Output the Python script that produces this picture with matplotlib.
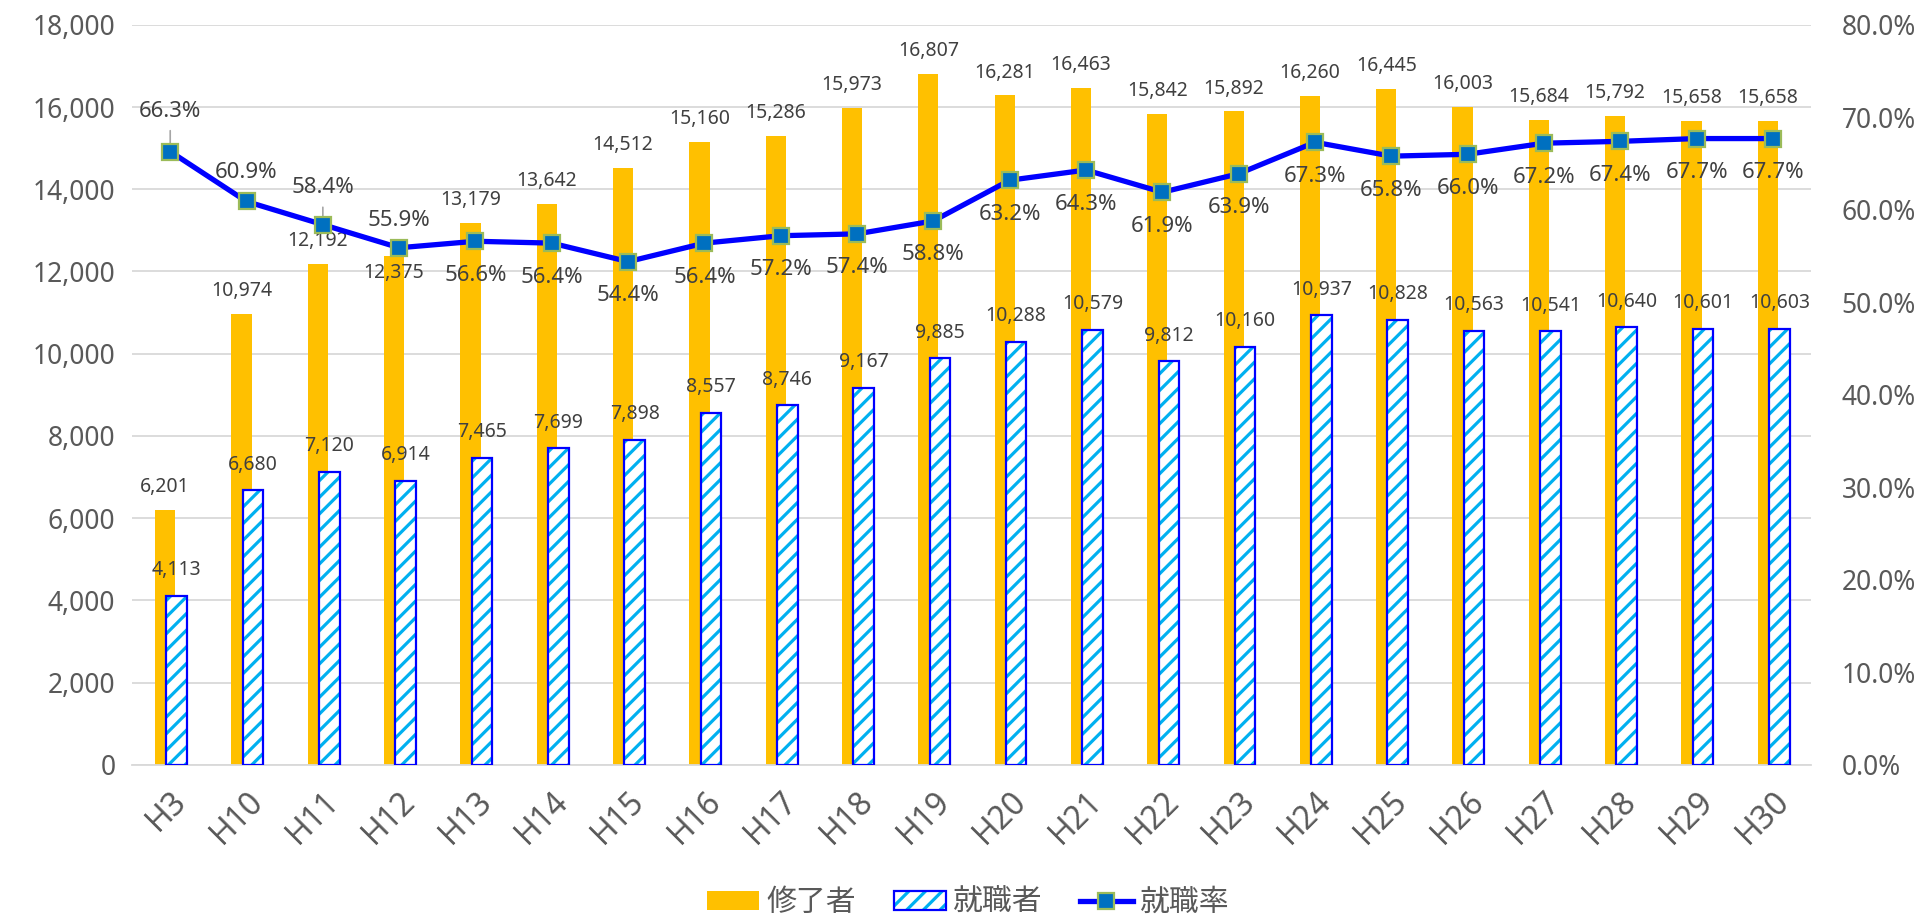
import matplotlib
matplotlib.use('Agg')
import matplotlib.pyplot as plt
from matplotlib.patches import Patch
from matplotlib.lines import Line2D
import numpy as np

ORANGE = '#FFC000'
BLUE = '#0000FF'
CYAN = '#00B0F0'
MFACE = '#0070C0'
MEDGE = '#9BBB59'
GRID = '#D9D9D9'
TICK = '#595959'
LABEL = '#404040'

years = ['H3', 'H10', 'H11', 'H12', 'H13', 'H14', 'H15', 'H16', 'H17', 'H18', 'H19',
         'H20', 'H21', 'H22', 'H23', 'H24', 'H25', 'H26', 'H27', 'H28', 'H29', 'H30']
graduates = [6201, 10974, 12192, 12375, 13179, 13642, 14512, 15160, 15286, 15973, 16807,
             16281, 16463, 15842, 15892, 16260, 16445, 16003, 15684, 15792, 15658, 15658]
employed = [4113, 6680, 7120, 6914, 7465, 7699, 7898, 8557, 8746, 9167, 9885,
            10288, 10579, 9812, 10160, 10937, 10828, 10563, 10541, 10640, 10601, 10603]
rate = [66.3, 60.9, 58.4, 55.9, 56.6, 56.4, 54.4, 56.4, 57.2, 57.4, 58.8,
        63.2, 64.3, 61.9, 63.9, 67.3, 65.8, 66.0, 67.2, 67.4, 67.7, 67.7]

# label placement (points, relative to the mark)
grad_off = [16.5] * len(years)
grad_off[3] = -12
rate_off = [29, 21, 26.5, 19.5] + [-24.5] * 18
leaders = {0, 2}

plt.rcParams['hatch.linewidth'] = 2.3

fig = plt.figure(figsize=(19.25, 9.17), dpi=100)
ax = fig.add_axes([0.0686, 0.1658, 0.8722, 0.8072])
x = np.arange(len(years))

ax.bar(x - 0.066, graduates, width=0.265, color=ORANGE, zorder=2)
ax.bar(x + 0.085, employed, width=0.27, color='white', edgecolor=CYAN,
       hatch='//', linewidth=0, zorder=3)
ax.bar(x + 0.085, employed, width=0.27, fill=False, edgecolor=BLUE,
       linewidth=1.6, zorder=4)

ax.set_xlim(-0.5, len(years) - 0.5)
ax.set_ylim(0, 18000)
ax.set_yticks(np.arange(0, 18001, 2000))
ax.set_yticklabels([f'{v:,}' for v in range(0, 18001, 2000)],
                   fontsize=19, color=TICK, family='Noto Sans')
ax.set_xticks(x)
ax.set_xticklabels(years, rotation=45, ha='right', rotation_mode='anchor',
                   fontsize=23, color=TICK, family='Noto Sans')
ax.tick_params(length=0, pad=12)
ax.tick_params(axis='x', pad=14)
ax.grid(axis='y', color=GRID, linewidth=1.3, zorder=0)
ax.set_axisbelow(True)
for s in ['top', 'right', 'left']:
    ax.spines[s].set_visible(False)
ax.spines['bottom'].set_color(GRID)
ax.spines['bottom'].set_linewidth(1.3)

for i in range(len(years)):
    ax.annotate(f'{graduates[i]:,}', (x[i] - 0.066, graduates[i]), xytext=(0, grad_off[i]),
                textcoords='offset points', ha='center', va='center',
                fontsize=14, color=LABEL, family='Noto Sans', zorder=6)
    ax.annotate(f'{employed[i]:,}', (x[i] + 0.085, employed[i]), xytext=(0, 18.5),
                textcoords='offset points', ha='center', va='center',
                fontsize=14, color=LABEL, family='Noto Sans', zorder=6)

ax2 = ax.twinx()
ax2.set_ylim(0, 80)
ax2.set_yticks(np.arange(0, 81, 10))
ax2.set_yticklabels([f'{v:.1f}%' for v in range(0, 81, 10)],
                    fontsize=19, color=TICK, family='Noto Sans')
ax2.tick_params(length=0, pad=22)
for s in ax2.spines.values():
    s.set_visible(False)
ax2.plot(x, rate, color=BLUE, linewidth=3.8, marker='s', markersize=11,
         markerfacecolor=MFACE, markeredgecolor=MEDGE, markeredgewidth=1.6, zorder=5)
for i in range(len(years)):
    ax2.annotate(f'{rate[i]:.1f}%', (x[i], rate[i]), xytext=(0, rate_off[i]),
                 textcoords='offset points', ha='center', va='center',
                 fontsize=16, color=LABEL, family='Noto Sans', zorder=6)
    if i in leaders:
        ax2.annotate('', (x[i], rate[i]), xytext=(0, rate_off[i] - 14),
                     textcoords='offset points',
                     arrowprops=dict(arrowstyle='-', color='#A6A6A6', lw=1.2,
                                     shrinkA=0, shrinkB=0), zorder=4)

hatch_fill = Patch(facecolor='white', edgecolor=CYAN, hatch='//', linewidth=0)
hatch_edge = Patch(facecolor='none', edgecolor=BLUE, linewidth=1.6)
handles = [
    Patch(facecolor=ORANGE, edgecolor='none'),
    (hatch_fill, hatch_edge),
    Line2D([0], [0], color=BLUE, linewidth=3.8, marker='s', markersize=11,
           markerfacecolor=MFACE, markeredgecolor=MEDGE, markeredgewidth=1.6),
]
leg = fig.legend(handles, ['修了者', '就職者', '就職率'], loc='lower center',
                 bbox_to_anchor=(0.503, -0.03),
                 ncol=3, frameon=False, handlelength=1.75, handleheight=0.6,
                 columnspacing=1.25, handletextpad=0.25,
                 prop={'family': ['Noto Sans CJK JP', 'DejaVu Sans'], 'size': 21.5})
for t in leg.get_texts():
    t.set_color(TICK)

fig.savefig('out.png', dpi=100)
